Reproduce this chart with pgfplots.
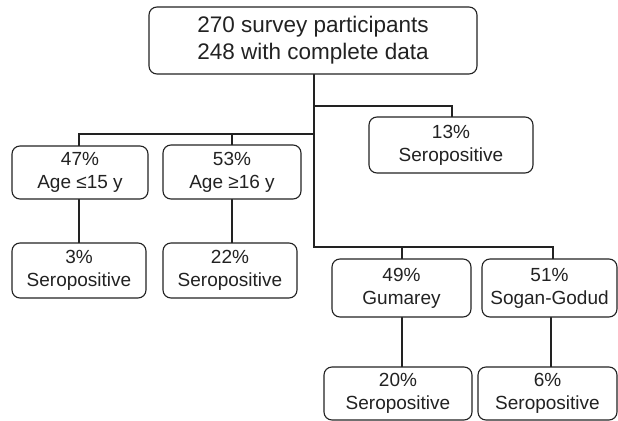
\documentclass[border=0pt]{standalone}
\usepackage{pgfplots}
\pgfplotsset{compat=1.18}
\usepackage{fontspec}
\setmainfont{Liberation Sans}
\definecolor{ink}{RGB}{34,34,34}
\begin{document}
\begin{tikzpicture}[
  box/.style={draw=ink, line width=1.1bp, rounded corners=8bp, inner sep=0pt,
    align=center, text=ink, font=\fontsize{19bp}{23bp}\selectfont},
]
\begin{axis}[
  scale only axis, width=618bp, height=421bp,
  xmin=0, xmax=618, ymin=0, ymax=421, y dir=reverse,
  hide axis, clip=false,
]
% connectors
\addplot[ink, line width=1.1bp] coordinates {(314,74) (314,247) (553,247) (553,259)};
\addplot[ink, line width=1.1bp] coordinates {(314,106) (452,106) (452,117)};
\addplot[ink, line width=1.1bp] coordinates {(79,146) (79,134) (314,134)};
\addplot[ink, line width=1.1bp] coordinates {(232,134) (232,145)};
\addplot[ink, line width=1.1bp] coordinates {(79,199) (79,243)};
\addplot[ink, line width=1.1bp] coordinates {(232,199) (232,243)};
\addplot[ink, line width=1.1bp] coordinates {(402,247) (402,259)};
\addplot[ink, line width=1.1bp] coordinates {(402,317) (402,367)};
\addplot[ink, line width=1.1bp] coordinates {(551,317) (551,367)};
% boxes
\node[box, minimum width=328bp, minimum height=67bp, font=\fontsize{22.5bp}{27bp}\selectfont, fill=white]
  at (axis cs:313,40.5) {270 survey participants\\248 with complete data};
\node[box, minimum width=164bp, minimum height=56bp, fill=white] at (axis cs:451,145) {13\%\\Seropositive};
\node[box, minimum width=136bp, minimum height=53bp, fill=white] at (axis cs:80,172.5) {47\%\\Age ≤15 y};
\node[box, minimum width=138bp, minimum height=54bp, fill=white] at (axis cs:232,172) {53\%\\Age ≥16 y};
\node[box, minimum width=134bp, minimum height=55bp, fill=white] at (axis cs:79,270.5) {3\%\\Seropositive};
\node[box, minimum width=134bp, minimum height=55bp, fill=white] at (axis cs:230,270.5) {22\%\\Seropositive};
\node[box, minimum width=139bp, minimum height=58bp, fill=white] at (axis cs:401.5,288) {49\%\\Gumarey};
\node[box, minimum width=135bp, minimum height=58bp, fill=white] at (axis cs:549.5,288) {51\%\\Sogan-Godud};
\node[box, minimum width=148bp, minimum height=53bp, fill=white] at (axis cs:398,393.5) {20\%\\Seropositive};
\node[box, minimum width=139bp, minimum height=53bp, fill=white] at (axis cs:547.5,393.5) {6\%\\Seropositive};
\end{axis}
\pgfresetboundingbox
\useasboundingbox (0,0) rectangle (618bp,421bp);
\end{tikzpicture}
\end{document}
